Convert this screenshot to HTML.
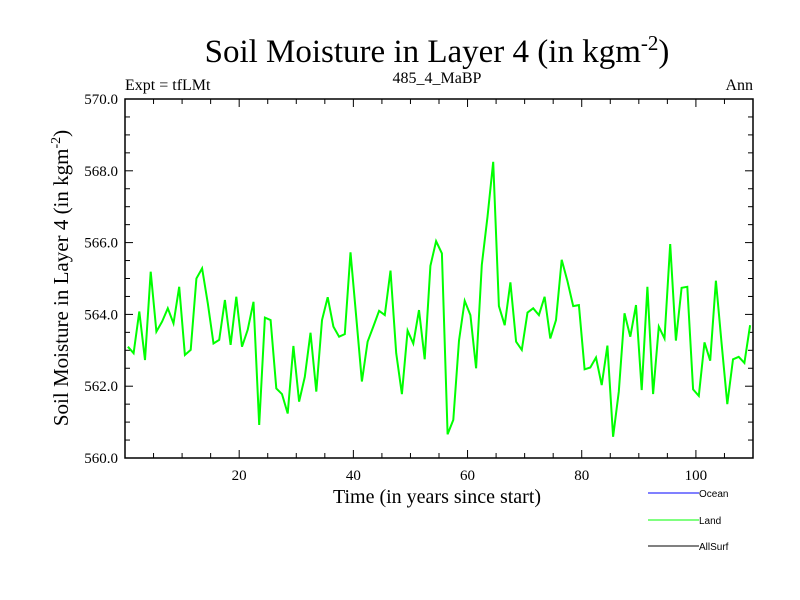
<!DOCTYPE html>
<html><head><meta charset="utf-8"><style>
html,body{margin:0;padding:0;background:#fff;}
svg{display:block;font-family:"Liberation Serif",serif;}
</style></head><body>
<svg id="chart" width="800" height="600" viewBox="0 0 800 600">
<text x="437" y="62" font-size="33" text-anchor="middle">Soil Moisture in Layer 4 (in kgm<tspan dy="-12" font-size="21">-2</tspan><tspan dy="12">)</tspan></text>
<text x="125" y="90" font-size="16">Expt = tfLMt</text>
<text x="437" y="83" font-size="16" text-anchor="middle">485_4_MaBP</text>
<text x="753" y="90" font-size="16" text-anchor="end">Ann</text>
<text transform="translate(68,278) rotate(-90)" font-size="21" text-anchor="middle">Soil Moisture in Layer 4 (in kgm<tspan dy="-8" font-size="14">-2</tspan><tspan dy="8">)</tspan></text>
<text x="437" y="503" font-size="20" text-anchor="middle">Time (in years since start)</text>
<g id="axes"></g>
<defs><clipPath id="clip"><rect x="125" y="99" width="628" height="359"/></clipPath></defs>
<g clip-path="url(#clip)"><path id="land-line" fill="none" stroke="#00ff00" stroke-width="2"/></g>
<rect x="125" y="99" width="628" height="359" fill="none" stroke="#000" stroke-width="1.5"/>
<g font-family="Liberation Sans, sans-serif" font-size="10" shape-rendering="crispEdges">
<line x1="648" y1="493" x2="699" y2="493" stroke="#0000ff"/>
<text x="699" y="497">Ocean</text>
<line x1="648" y1="520" x2="699" y2="520" stroke="#00ff00"/>
<text x="699" y="524">Land</text>
<line x1="648" y1="546" x2="699" y2="546" stroke="#000"/>
<text x="699" y="550">AllSurf</text>
</g>
</svg>
<script>
const landValues = [563.10,562.92,564.08,562.73,565.19,563.52,563.80,564.17,563.75,564.77,562.87,563.01,565.00,565.28,564.31,563.19,563.29,564.40,563.15,564.49,563.10,563.57,564.35,560.92,563.91,563.84,561.94,561.78,561.24,563.12,561.57,562.26,563.49,561.85,563.84,564.48,563.66,563.38,563.45,565.73,563.94,562.13,563.24,563.66,564.10,563.98,565.22,562.92,561.78,563.55,563.19,564.12,562.75,565.35,566.04,565.70,560.66,561.06,563.27,564.38,563.98,562.50,565.38,566.72,568.25,564.23,563.70,564.89,563.24,563.01,564.05,564.17,563.98,564.49,563.33,563.84,565.52,564.92,564.23,564.26,562.47,562.52,562.80,562.03,563.13,560.59,561.85,564.03,563.38,564.26,561.89,564.77,561.78,563.66,563.33,565.96,563.27,564.74,564.77,561.91,561.73,563.22,562.71,564.94,563.19,561.50,562.75,562.82,562.65,563.70];
const xTickLabels = ["20","40","60","80","100"];
const xTickValues = [20,40,60,80,100];
const yTickLabels = ["560.0","562.0","564.0","566.0","568.0","570.0"];
const yTickValues = [560,562,564,566,568,570];
const X0=125,X1=753,Y0=458,Y1=99,XMIN=0,XMAX=110,YMIN=560,YMAX=570;
function sx(v){return X0+(v-XMIN)/(XMAX-XMIN)*(X1-X0);}
function sy(v){return Y0-(v-YMIN)/(YMAX-YMIN)*(Y0-Y1);}
const NS="http://www.w3.org/2000/svg";
const axes=document.getElementById('axes');
function ln(x1,y1,x2,y2,name){const l=document.createElementNS(NS,'line');l.setAttribute('x1',x1);l.setAttribute('y1',y1);l.setAttribute('x2',x2);l.setAttribute('y2',y2);l.setAttribute('stroke','#000');l.setAttribute('stroke-width','1');


axes.appendChild(l);}
for(let v=0;v<=110;v+=5){const x=sx(v);const L=(v%20===0)?8:5;ln(x,Y0,x,Y0-L,'x-tick');ln(x,Y1,x,Y1+L,'x-tick-top');}
for(let v=560;v<=570.001;v+=0.5){const y=sy(v);const L=(Math.abs(v%2)<0.01)?8:5;ln(X0,y,X0+L,y,'y-tick');ln(X1,y,X1-L,y,'y-tick-right');}
xTickValues.forEach((v,i)=>{const t=document.createElementNS(NS,'text');t.setAttribute('x',sx(v));t.setAttribute('y',480);t.setAttribute('font-size','15');t.setAttribute('text-anchor','middle');t.textContent=xTickLabels[i];


axes.appendChild(t);});
yTickValues.forEach((v,i)=>{const t=document.createElementNS(NS,'text');t.setAttribute('x',118);t.setAttribute('y',sy(v)+5);t.setAttribute('font-size','15');t.setAttribute('text-anchor','end');t.textContent=yTickLabels[i];


axes.appendChild(t);});
let d='';landValues.forEach((v,i)=>{d+=(i?'L':'M')+sx(i+0.5).toFixed(1)+','+sy(v).toFixed(1);});
document.getElementById('land-line').setAttribute('d',d);
</script>
</body></html>
